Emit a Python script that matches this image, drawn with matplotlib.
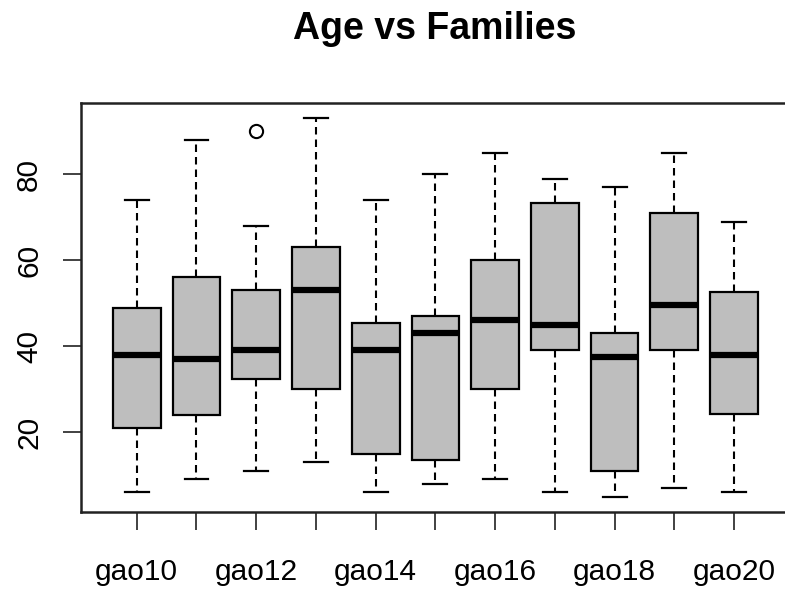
import matplotlib
matplotlib.use("Agg")
import matplotlib.pyplot as plt

plt.rcParams['font.family'] = ['Liberation Sans', 'DejaVu Sans']

families = ["gao10", "gao11", "gao12", "gao13", "gao14", "gao15",
            "gao16", "gao17", "gao18", "gao19", "gao20"]
whisker_low = [6, 9, 11, 13, 6, 8, 9, 6, 5, 7, 6]
q1 = [21, 24, 32.4, 30, 15, 13.6, 30, 39, 11, 39, 24.1]
median = [38, 37, 39, 53, 39, 43, 46, 45, 37.5, 49.5, 38]
q3 = [49, 56, 53, 63, 45.5, 47, 60, 73.4, 43, 71, 52.5]
whisker_high = [74, 88, 68, 93, 74, 80, 85, 79, 77, 85, 69]
outliers = [[], [], [90], [], [], [], [], [], [], [], []]
shown_labels = ["gao10", "", "gao12", "", "gao14", "", "gao16", "", "gao18", "", "gao20"]

stats = []
for i, name in enumerate(families):
    stats.append(dict(label=name, whislo=whisker_low[i], q1=q1[i], med=median[i],
                      q3=q3[i], whishi=whisker_high[i], fliers=outliers[i]))

fig = plt.figure(figsize=(7.85, 5.91), dpi=100)
ax = fig.add_axes([80.6 / 785, 79.3 / 591, (790.2 - 80.6) / 785, (511.7 - 103.3) / 591])

positions = list(range(1, len(families) + 1))
ax.bxp(stats, positions=positions, widths=0.8, patch_artist=True,
       boxprops=dict(facecolor="#bebebe", edgecolor="black", linewidth=1.6),
       medianprops=dict(color="black", linewidth=4.5, solid_capstyle="butt"),
       whiskerprops=dict(color="black", linewidth=1.5, linestyle=(0, (3.6, 2.4)),
                         dash_capstyle="butt"),
       capprops=dict(color="black", linewidth=1.6),
       capwidths=0.4,
       flierprops=dict(marker="o", markerfacecolor="none", markeredgecolor="black",
                       markersize=9.5, markeredgewidth=1.5))

ax.set_xlim(0.06, 11.94)
ax.set_ylim(1.48, 96.52)
ax.set_xticks(positions)
ax.set_xticklabels(shown_labels)
ax.set_yticks([20, 40, 60, 80])
ax.set_yticklabels(["20", "40", "60", "80"], rotation=90, va="center")

ax.tick_params(axis="both", length=13, width=1.3, labelsize=21.5, color="#333333")
ax.tick_params(axis="x", pad=20)
ax.tick_params(axis="y", pad=14)

for s in ax.spines.values():
    s.set_linewidth(1.8)
    s.set_color("#222222")

fig.text(435 / 785, 1 - 29 / 591, "Age vs Families", ha="center", va="center",
         fontsize=27, fontweight="bold")

fig.savefig("out.png", dpi=100)
